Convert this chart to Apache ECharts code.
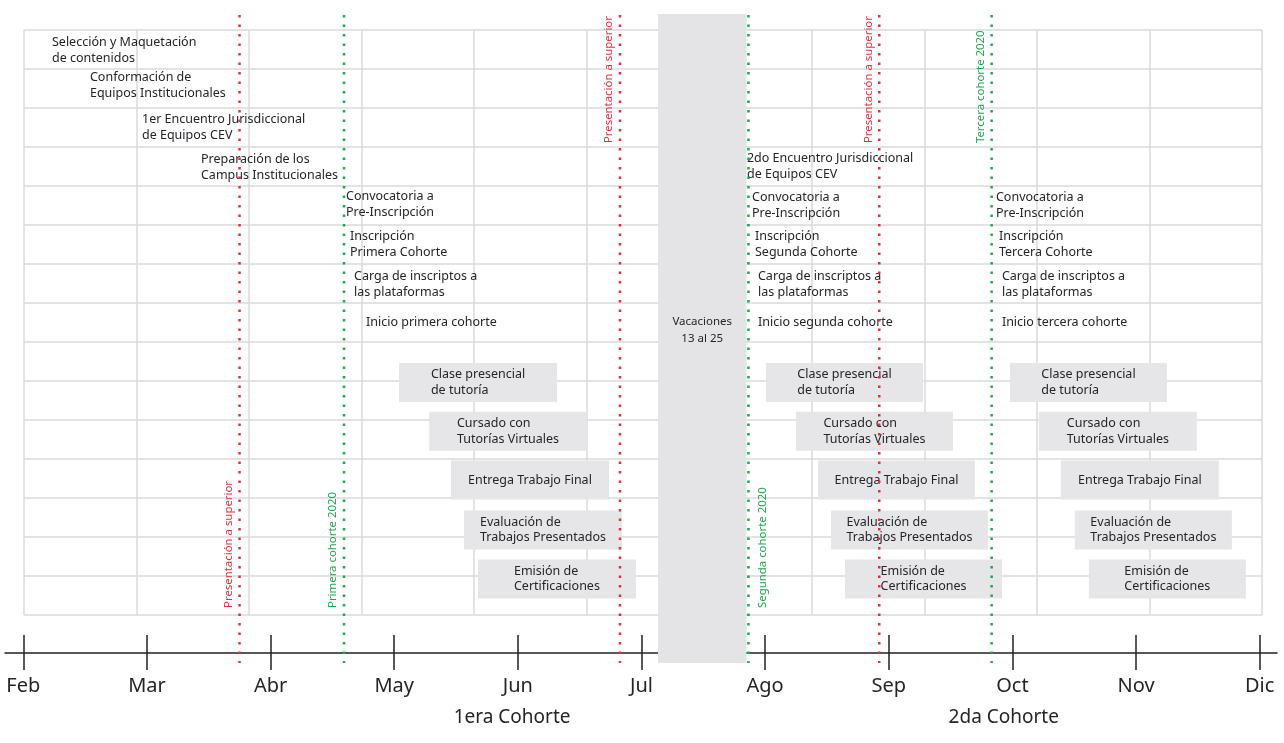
<!DOCTYPE html>
<html>
<head>
<meta charset="utf-8">
<title>Cronograma 2020</title>
<style>
  html, body { margin: 0; padding: 0; background: #fff; }
  #chart { width: 1284px; height: 743px; }
</style>
<script src="https://cdn.jsdelivr.net/npm/echarts@6/dist/echarts.min.js"></script>
</head>
<body>
<div id="chart"></div>
<script>
// eje de tiempo (0 = Feb ... 10 = Dic)
const months = ['Feb', 'Mar', 'Abr', 'May', 'Jun', 'Jul', 'Ago', 'Sep', 'Oct', 'Nov', 'Dic']

// actividades sin caja
const taskNames = [
  'Selección y Maquetación\nde contenidos',
  'Conformación de\nEquipos Institucionales',
  '1er Encuentro Jurisdiccional\nde Equipos CEV',
  'Preparación de los\nCampus Institucionales',
  'Convocatoria a\nPre-Inscripción',
  'Inscripción\nPrimera Cohorte',
  'Carga de inscriptos a\nlas plataformas',
  'Inicio primera cohorte',
  '2do Encuentro Jurisdiccional\nde Equipos CEV',
  'Convocatoria a\nPre-Inscripción',
  'Inscripción\nSegunda Cohorte',
  'Carga de inscriptos a\nlas plataformas',
  'Inicio segunda cohorte',
  'Convocatoria a\nPre-Inscripción',
  'Inscripción\nTercera Cohorte',
  'Carga de inscriptos a\nlas plataformas',
  'Inicio tercera cohorte'
]
const taskStart = [0.232, 0.539, 0.960, 1.437, 2.610, 2.642, 2.675, 2.772,
  5.853, 5.894, 5.918, 5.942, 5.942, 7.867, 7.891, 7.915, 7.915]
const taskRow = [0.53, 1.42, 2.5, 3.53, 4.47, 5.5, 6.53, 7.5,
  3.5, 4.5, 5.5, 6.53, 7.5, 4.5, 5.5, 6.53, 7.5]

// actividades en caja, una fila por cohorte
const boxNames = [
  'Clase presencial\nde tutoría',
  'Cursado con\nTutorías Virtuales',
  'Entrega Trabajo Final',
  'Evaluación de\nTrabajos Presentados',
  'Emisión de\nCertificaciones'
]
const boxRow = [9.04, 10.29, 11.54, 12.82, 14.08]
const cohort1Start = [3.039, 3.282, 3.459, 3.564, 3.677]
const cohort1End = [4.317, 4.559, 4.737, 4.842, 4.955]
const cohort2Start = [6.007, 6.250, 6.428, 6.533, 6.646]
const cohort2End = [7.277, 7.519, 7.697, 7.802, 7.916]
const cohort3Start = [7.980, 8.214, 8.392, 8.505, 8.618]
const cohort3End = [9.250, 9.492, 9.670, 9.775, 9.888]

// hitos (líneas punteadas)
const markerAt = [1.749, 2.594, 4.826, 5.865, 6.923, 7.832]
const markerText = ['Presentación a superior', 'Primera cohorte 2020', 'Presentación a superior',
  'Segunda cohorte 2020', 'Presentación a superior', 'Tercera cohorte 2020']
const markerKind = ['superior', 'cohorte', 'superior', 'cohorte', 'superior', 'cohorte']
const markerLabelEnd = ['bottom', 'bottom', 'top', 'bottom', 'top', 'top']
const markerLabelSide = ['left', 'left', 'left', 'right', 'left', 'left']

// vacaciones
const vacationStart = 5.133
const vacationEnd = 5.849
const vacationText = 'Vacaciones\n13 al 25'

// nombres de cohorte bajo el eje
const cohortNames = ['1era Cohorte', '2da Cohorte']
const cohortAt = [3.953, 7.93]

const FONT_FAMILY = '"Noto Sans", "Open Sans", sans-serif'
const TEXT_COLOR = '#24242c'
const TASK_FONT = '12.5px ' + FONT_FAMILY
const KIND_COLOR = { superior: '#e0303f', cohorte: '#1fa64f' }

const measureCtx = document.createElement('canvas').getContext('2d')
function blockWidth (text, font) {
  measureCtx.font = font
  return Math.max.apply(null, text.split('\n').map(l => measureCtx.measureText(l).width))
}

function renderTask (params, api) {
  const p = api.coord([api.value(0), api.value(1)])
  return {
    type: 'text',
    x: p[0],
    y: p[1],
    style: {
      text: taskNames[params.dataIndex],
      font: TASK_FONT,
      fill: TEXT_COLOR,
      align: 'left',
      verticalAlign: 'middle',
      lineHeight: 15.5
    }
  }
}

function renderBox (params, api) {
  const p0 = api.coord([api.value(0), api.value(2) - 0.5])
  const p1 = api.coord([api.value(1), api.value(2) + 0.5])
  const name = boxNames[params.dataIndex % boxNames.length]
  const cx = (p0[0] + p1[0]) / 2
  const w = blockWidth(name, TASK_FONT)
  return {
    type: 'group',
    children: [{
      type: 'rect',
      shape: { x: p0[0], y: p0[1], width: p1[0] - p0[0], height: p1[1] - p0[1] },
      style: { fill: '#e6e6e8' }
    }, {
      type: 'text',
      x: cx - w / 2,
      y: (p0[1] + p1[1]) / 2,
      style: {
        text: name,
        font: TASK_FONT,
        fill: TEXT_COLOR,
        align: 'left',
        verticalAlign: 'middle',
        lineHeight: 15.5
      }
    }]
  }
}

function renderMarker (params, api) {
  const i = params.dataIndex
  const top = api.coord([api.value(0), -0.385])
  const bottom = api.coord([api.value(0), 16.23])
  const color = KIND_COLOR[markerKind[i]]
  const labelY = api.coord([api.value(0), markerLabelEnd[i] === 'top' ? 2.9 : 14.82])[1]
  const dx = markerLabelSide[i] === 'left' ? -11 : 14
  return {
    type: 'group',
    children: [{
      type: 'line',
      shape: { x1: top[0], y1: top[1], x2: bottom[0], y2: bottom[1] },
      style: { stroke: color, lineWidth: 2.5, lineDash: [2.5, 7] }
    }, {
      type: 'text',
      x: top[0] + dx,
      y: labelY,
      rotation: Math.PI / 2,
      style: {
        text: markerText[i],
        font: '11.4px ' + FONT_FAMILY,
        fill: color,
        align: 'left',
        verticalAlign: 'middle'
      }
    }]
  }
}

function renderVacation (params, api) {
  const p0 = api.coord([api.value(0), -0.41])
  const p1 = api.coord([api.value(1), 16.23])
  const mid = api.coord([(api.value(0) + api.value(1)) / 2, 7.71])
  return {
    type: 'group',
    children: [{
      type: 'rect',
      shape: { x: p0[0], y: p0[1], width: p1[0] - p0[0], height: p1[1] - p0[1] },
      style: { fill: '#e4e4e6' }
    }, {
      type: 'text',
      x: mid[0],
      y: mid[1],
      style: {
        text: vacationText,
        font: '11.5px ' + FONT_FAMILY,
        fill: TEXT_COLOR,
        align: 'center',
        verticalAlign: 'middle',
        lineHeight: 17
      }
    }]
  }
}

function renderCohort (params, api) {
  const p = api.coord([api.value(0), 17.62])
  return {
    type: 'text',
    x: p[0],
    y: p[1],
    style: {
      text: cohortNames[params.dataIndex],
      font: '19px ' + FONT_FAMILY,
      fill: TEXT_COLOR,
      align: 'center',
      verticalAlign: 'middle'
    }
  }
}

const boxStart = cohort1Start.concat(cohort2Start, cohort3Start)
const boxEnd = cohort1End.concat(cohort2End, cohort3End)
const boxData = boxStart.map((s, i) => [s, boxEnd[i], boxRow[i % boxRow.length]])
const tickValues = months.map((m, i) => i)

const gridLine = { show: true, lineStyle: { color: '#dadada', width: 1.5 } }
const timeAxisBase = {
  type: 'value',
  gridIndex: 1,
  min: -0.148,
  max: 10.14,
  position: 'bottom',
  offset: 38,
  splitLine: { show: false }
}

const chart = echarts.init(document.getElementById('chart'))
chart.setOption({
  animation: false,
  grid: [
    { left: 24, top: 30, width: 1238, height: 585, outerBoundsMode: 'none' },
    { left: 5, right: 7, top: 30, height: 585, outerBoundsMode: 'none' }
  ],
  xAxis: [{
    type: 'value',
    gridIndex: 0,
    min: 0,
    max: 11,
    interval: 1,
    axisLine: { show: false },
    axisTick: { show: false },
    axisLabel: { show: false },
    splitLine: gridLine
  }, Object.assign({}, timeAxisBase, {
    axisLine: { show: true, onZero: false, lineStyle: { color: '#222', width: 1.5 } },
    axisTick: { show: true, length: 17, customValues: tickValues, lineStyle: { color: '#222', width: 1.5 } },
    axisLabel: {
      show: true,
      customValues: tickValues,
      formatter: v => months[Math.round(v)],
      margin: 23,
      fontSize: 20,
      fontFamily: FONT_FAMILY,
      color: TEXT_COLOR
    }
  }), Object.assign({}, timeAxisBase, {
    axisLine: { show: false, onZero: false },
    axisTick: { show: true, inside: true, length: 18, customValues: tickValues, lineStyle: { color: '#222', width: 1.5 } },
    axisLabel: { show: false }
  })],
  yAxis: [{
    type: 'value',
    gridIndex: 0,
    min: 0,
    max: 15,
    interval: 1,
    inverse: true,
    axisLine: { show: false },
    axisTick: { show: false },
    axisLabel: { show: false },
    splitLine: gridLine
  }, {
    type: 'value',
    gridIndex: 1,
    min: 0,
    max: 15,
    inverse: true,
    show: false
  }],
  series: [{
    type: 'custom',
    name: 'Vacaciones',
    xAxisIndex: 1,
    yAxisIndex: 1,
    z: 3,
    renderItem: renderVacation,
    data: [[vacationStart, vacationEnd]]
  }, {
    type: 'custom',
    name: 'Actividades',
    xAxisIndex: 1,
    yAxisIndex: 1,
    z: 4,
    renderItem: renderTask,
    data: taskStart.map((s, i) => [s, taskRow[i]])
  }, {
    type: 'custom',
    name: 'Cursado',
    xAxisIndex: 1,
    yAxisIndex: 1,
    z: 4,
    renderItem: renderBox,
    data: boxData
  }, {
    type: 'custom',
    name: 'Hitos',
    xAxisIndex: 1,
    yAxisIndex: 1,
    z: 5,
    renderItem: renderMarker,
    data: markerAt.map(v => [v])
  }, {
    type: 'custom',
    name: 'Cohortes',
    xAxisIndex: 1,
    yAxisIndex: 1,
    z: 4,
    renderItem: renderCohort,
    data: cohortAt.map(v => [v])
  }]
})
</script>
</body>
</html>
